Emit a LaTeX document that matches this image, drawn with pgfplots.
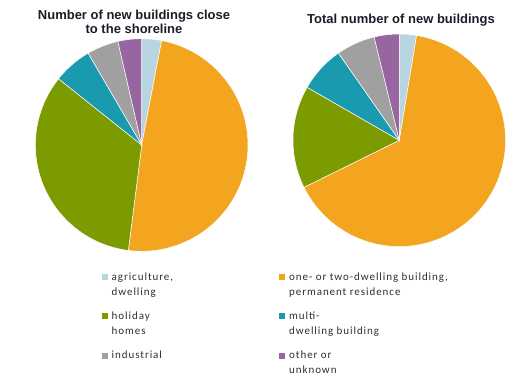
\documentclass[border=0pt]{standalone}
\usepackage{fontspec}
\setmainfont{Liberation Sans}
\newfontfamily\legendfamily[LetterSpace=8.5]{Carlito}
\usepackage{pgfplots}
\usepackage{pgfplotstable}
\pgfplotsset{compat=1.18}

\definecolor{pieagri}{HTML}{B8D6E0}
\definecolor{pieone}{HTML}{F3A51F}
\definecolor{piehol}{HTML}{7B9B00}
\definecolor{piemulti}{HTML}{1A9AAF}
\definecolor{pieind}{HTML}{A0A0A0}
\definecolor{pieoth}{HTML}{97659F}
\definecolor{titlecol}{HTML}{1C1C28}
\definecolor{legcol}{HTML}{2E2E2E}

% shares in percent: left = close to the shoreline, right = total
\pgfplotstableread{
idx left right
0 3.0 2.6
1 49.0 65.1
2 33.7 15.6
3 5.9 7.0
4 4.8 5.9
5 3.6 3.8
}\piedata

\newcommand\pieradius{106.3}
\newcommand\slice[6]{% #1 row, #2 column, #3 cx, #4 cy, #5 colour, #6 extra options
  \pgfplotstablegetelem{#1}{#2}\of\piedata
  \pgfmathsetmacro\sa{90-3.6*\cum}%
  \pgfmathsetmacro\newcum{\cum+\pgfplotsretval}%
  \xdef\cum{\newcum}%
  \pgfmathsetmacro\sb{90-3.6*\cum}%
  \edef\doplot{\noexpand\addplot[fill=#5, draw=white, line width=0.5pt, domain=\sa:\sb, samples=80, #6] ({#3+\pieradius*cos(x)},{#4-\pieradius*sin(x)}) -- (axis cs:#3,#4) -- cycle;}%
  \doplot}

\newcommand\titlefont{\bfseries\fontsize{13}{14}\selectfont}
\newcommand\legtext[2]{\parbox[t]{#1}{\raggedright #2}}

\begin{document}
\begin{tikzpicture}
\useasboundingbox (0,0) rectangle (520pt,390pt);
\begin{axis}[
  anchor=south west, at={(0,0)},
  x=1pt, y=1pt, xmin=0, xmax=520, ymin=0, ymax=390, y dir=reverse,
  hide axis, clip=false,
  legend columns=2,
  legend image code/.code={\fill[#1, draw=none] (0pt,0pt) rectangle (6pt,6pt);},
  legend style={at={(axis cs:101.5,272.5)}, anchor=north west, draw=none, fill=none,
    inner sep=0pt, font=\legendfamily\fontsize{11}{15}\selectfont, text=legcol,
    cells={anchor=base west}, nodes={inner sep=0pt}, row sep=30pt,
    /tikz/every odd column/.append style={column sep=4pt},
    /tikz/every even column/.append style={column sep=3.5pt}},
]
\gdef\cum{0}
\slice{0}{left}{141.7}{145}{pieagri}{}
\addlegendentry{\legtext{164pt}{agriculture,\newline dwelling}}
\slice{1}{left}{141.7}{145}{pieone}{}
\addlegendentry{\legtext{160pt}{one- or two-dwelling building,\newline permanent residence}}
\slice{2}{left}{141.7}{145}{piehol}{}
\addlegendentry{\legtext{164pt}{holiday\newline homes}}
\slice{3}{left}{141.7}{145}{piemulti}{}
\addlegendentry{\legtext{160pt}{multi-\newline dwelling building}}
\slice{4}{left}{141.7}{145}{pieind}{}
\addlegendentry{\legtext{164pt}{industrial}}
\slice{5}{left}{141.7}{145}{pieoth}{}
\addlegendentry{\legtext{160pt}{other or\newline unknown}}

\gdef\cum{0}
\slice{0}{right}{399.3}{140.3}{pieagri}{forget plot}
\slice{1}{right}{399.3}{140.3}{pieone}{forget plot}
\slice{2}{right}{399.3}{140.3}{piehol}{forget plot}
\slice{3}{right}{399.3}{140.3}{piemulti}{forget plot}
\slice{4}{right}{399.3}{140.3}{pieind}{forget plot}
\slice{5}{right}{399.3}{140.3}{pieoth}{forget plot}

\node[font=\titlefont, text=titlecol, anchor=base] at (axis cs:134,19.3) {Number of new buildings close};
\node[font=\titlefont, text=titlecol, anchor=base] at (axis cs:134,33.3) {to the shoreline};
\node[font=\titlefont, text=titlecol, anchor=base] at (axis cs:401,24) {Total number of new buildings};
\end{axis}
\end{tikzpicture}
\end{document}
